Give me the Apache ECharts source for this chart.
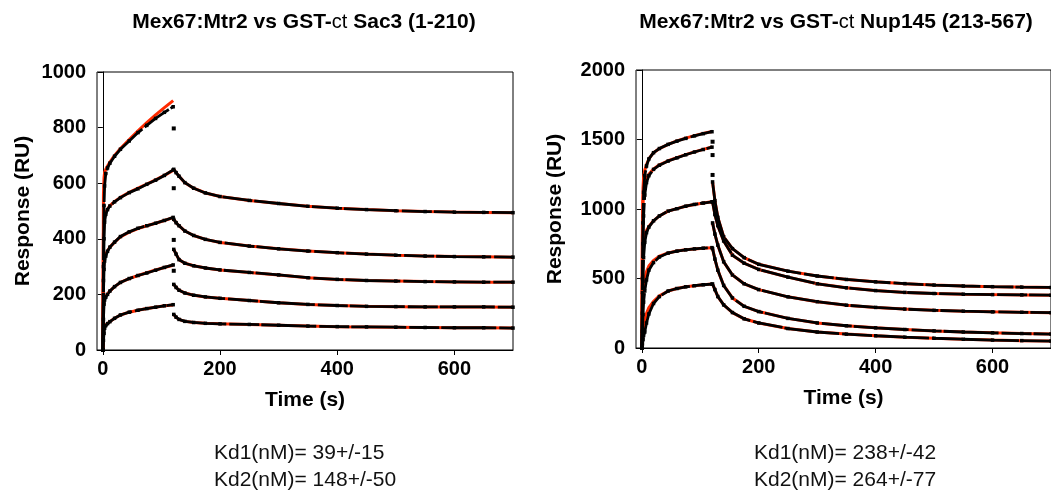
<!DOCTYPE html>
<html><head><meta charset="utf-8">
<script src="https://cdn.jsdelivr.net/npm/echarts@6/dist/echarts.min.js"></script>
<style>html,body{margin:0;padding:0;background:#fff}#c{width:1051px;height:490px}</style>
</head><body><div id="c"></div>
<script>
// ---- time samples (s) ----
const assocT = [0, 1, 2, 3, 5, 8, 12, 20, 30, 45, 60, 75, 90, 105, 120];
const dissT  = [121, 125, 130, 140, 155, 175, 200, 250, 300, 350, 400, 450, 500, 550, 600, 650, 700];
const transT = 121;
const xTicks = [0, 200, 400, 600];

// ---- Left panel: Sac3 (1-210) ----
const L_assoc1 = [0, 300, 520, 590, 635, 655, 672, 697, 722, 752, 782, 808, 833, 855, 875];
const L_assoc2 = [0, 250, 400, 460, 488, 505, 518, 533, 548, 566, 580, 596, 611, 628, 648];
const L_assoc3 = [0, 200, 290, 320, 338, 355, 370, 388, 408, 425, 438, 447, 456, 466, 477];
const L_assoc4 = [0, 110, 165, 180, 190, 200, 212, 228, 243, 257, 268, 277, 287, 297, 306];
const L_assoc5 = [0, 35, 60, 78, 88, 95, 102, 114, 126, 136, 143, 149, 154, 159, 163];
const L_fit1 = [0, 560, 620, 640, 650, 662, 676, 700, 725, 757, 788, 818, 846, 872, 897];
const L_fit2 = [0, 420, 470, 485, 495, 507, 519, 534, 549, 567, 582, 597, 612, 628, 646];
const L_fit3 = [0, 290, 325, 337, 345, 357, 370, 388, 407, 424, 437, 447, 456, 466, 476];
const L_fit4 = [0, 160, 180, 188, 194, 202, 212, 228, 243, 257, 268, 278, 288, 297, 305];
const L_fit5 = [0, 70, 80, 85, 90, 96, 102, 114, 126, 136, 143, 149, 154, 159, 162];
const L_diss1 = [650, 638, 625, 602, 582, 565, 552, 538, 527, 517, 510, 505, 501, 498, 496, 495, 494];
const L_diss2 = [470, 458, 447, 428, 412, 398, 387, 374, 364, 356, 350, 345, 341, 338, 336, 335, 334];
const L_diss3 = [362, 345, 325, 312, 303, 295, 288, 279, 270, 260, 254, 250, 248, 246, 245, 244, 244];
const L_diss4 = [236, 225, 215, 205, 197, 191, 186, 178, 170, 164, 160, 157, 156, 155, 155, 155, 154];
const L_diss5 = [128, 118, 110, 103, 99, 96, 94, 92, 89, 86, 84, 83, 82, 81, 80, 80, 79];
const L_trans = [797, 582, 396, 285];

// ---- Right panel: Nup145 (213-567) ----
const R_assoc1 = [0, 500, 900, 1120, 1240, 1310, 1360, 1405, 1435, 1465, 1488, 1508, 1526, 1542, 1556];
const R_assoc2 = [0, 400, 750, 950, 1100, 1190, 1240, 1285, 1315, 1345, 1368, 1390, 1410, 1428, 1445];
const R_assoc3 = [0, 250, 480, 650, 760, 830, 870, 915, 950, 985, 1002, 1020, 1033, 1043, 1052];
const R_assoc4 = [0, 120, 240, 330, 410, 490, 560, 615, 655, 683, 697, 706, 713, 718, 722];
const R_assoc5 = [0, 30, 60, 90, 115, 180, 245, 320, 370, 410, 428, 440, 448, 455, 460];
const R_fit1 = [0, 900, 1150, 1230, 1280, 1320, 1360, 1405, 1435, 1465, 1490, 1510, 1528, 1544, 1558];
const R_fit2 = [0, 800, 1050, 1130, 1180, 1220, 1250, 1288, 1318, 1347, 1370, 1391, 1411, 1429, 1446];
const R_fit3 = [0, 500, 680, 760, 810, 845, 875, 915, 950, 985, 1003, 1020, 1033, 1043, 1052];
const R_fit4 = [0, 250, 380, 440, 500, 550, 590, 630, 660, 684, 698, 707, 713, 718, 722];
const R_fit5 = [0, 60, 110, 150, 200, 250, 290, 335, 375, 410, 428, 440, 448, 455, 460];
const R_diss1 = [1195, 1060, 940, 800, 715, 650, 602, 553, 518, 493, 476, 463, 453, 446, 441, 438, 436];
const R_diss2 = [1050, 960, 880, 770, 668, 610, 565, 510, 462, 433, 413, 400, 392, 387, 384, 382, 380];
const R_diss3 = [900, 820, 740, 620, 525, 462, 420, 368, 333, 308, 292, 280, 271, 265, 260, 257, 254];
const R_diss4 = [715, 640, 560, 450, 360, 300, 262, 213, 180, 160, 145, 133, 123, 115, 109, 104, 100];
const R_diss5 = [460, 420, 370, 310, 255, 210, 180, 140, 115, 100, 88, 78, 70, 63, 57, 53, 50];
const R_trans = [1484, 1388, 1245];

const FONT = '"Liberation Sans", Arial, Helvetica, sans-serif';
const RED = '#ff2a00';
function pairs(ts, vs) { return vs.map((v, i) => [ts[i], v]); }

function panelSeries(g, assoc, fits, diss, trans) {
  const s = [];
  const red = (data) => ({
    type: 'line', xAxisIndex: g, yAxisIndex: g, data, showSymbol: false, z: 2,
    lineStyle: { color: RED, width: 3 }, silent: true, animation: false
  });
  const blk = (data) => ({
    type: 'line', xAxisIndex: g, yAxisIndex: g, data, symbol: 'rect', symbolSize: 3.5, z: 3,
    itemStyle: { color: '#000' }, lineStyle: { color: '#000', width: 2.8, type: [55, 3, 30, 2] },
    silent: true, animation: false
  });
  fits.forEach(f => s.push(red(pairs(assocT, f))));
  diss.forEach(d => s.push(red(pairs(dissT, d))));
  assoc.forEach(a => s.push(blk(pairs(assocT, a))));
  diss.forEach(d => s.push(blk(pairs(dissT, d))));
  s.push({
    type: 'scatter', xAxisIndex: g, yAxisIndex: g, symbol: 'rect', symbolSize: [4, 4],
    data: trans.map(v => [transT, v]), itemStyle: { color: '#000', opacity: 1 }, z: 4, silent: true, animation: false
  });
  return s;
}

const lblStyle = { fontFamily: FONT, fontSize: 20, fontWeight: 'bold', color: '#000' };
const nameStyle = { fontFamily: FONT, fontSize: 21, fontWeight: 'bold', color: '#000' };

function xAx(g) {
  return {
    gridIndex: g, type: 'value', min: -10, max: 700,
    axisLine: { show: true, onZero: false, lineStyle: { color: '#000', width: 1 } },
    axisTick: { show: true, customValues: xTicks, length: 5, lineStyle: { color: '#000' } },
    axisLabel: Object.assign({ customValues: xTicks, margin: 9, formatter: v => String(v) }, lblStyle),
    splitLine: { show: false },
    name: 'Time (s)', nameLocation: 'middle', nameGap: 40, nameTextStyle: nameStyle
  };
}
function yAx(g, max, interval, gap) {
  return {
    gridIndex: g, type: 'value', min: 0, max, interval,
    axisLine: { show: true, lineStyle: { color: '#000', width: 1 } },
    axisTick: { show: true, length: 5, lineStyle: { color: '#000' } },
    axisLabel: Object.assign({ margin: 11, formatter: v => String(v) }, lblStyle),
    splitLine: { show: false },
    name: 'Response (RU)', nameLocation: 'middle', nameGap: gap, nameTextStyle: nameStyle
  };
}

const titleRich = {
  b: { fontFamily: FONT, fontSize: 21, fontWeight: 'bold', fill: '#000' },
  n: { fontFamily: FONT, fontSize: 20, fontWeight: 'normal', fill: '#000' }
};
function txt(x, y, text, align, rich, size) {
  return {
    type: 'text', x, y, silent: true,
    style: {
      text, x: 0, y: 0, align, verticalAlign: 'middle', rich,
      font: (rich ? 'bold 21px ' : 'normal ' + size + 'px ') + FONT, fill: '#111'
    }
  };
}

const chart = echarts.init(document.getElementById('c'));
chart.setOption({
  animation: false,
  backgroundColor: '#fff',
  grid: [
    { left: 97, top: 72, width: 416, height: 278, show: true, borderColor: '#000', borderWidth: 1, backgroundColor: 'transparent' },
    { left: 636, top: 70, width: 420, height: 278, show: true, borderColor: '#000', borderWidth: 1, backgroundColor: 'transparent' }
  ],
  xAxis: [xAx(0), xAx(1)],
  yAxis: [yAx(0, 1000, 200, 63), yAx(1, 2000, 500, 70)],
  series: [].concat(
    panelSeries(0, [L_assoc1, L_assoc2, L_assoc3, L_assoc4, L_assoc5],
      [L_fit1, L_fit2, L_fit3, L_fit4, L_fit5],
      [L_diss1, L_diss2, L_diss3, L_diss4, L_diss5], L_trans),
    panelSeries(1, [R_assoc1, R_assoc2, R_assoc3, R_assoc4, R_assoc5],
      [R_fit1, R_fit2, R_fit3, R_fit4, R_fit5],
      [R_diss1, R_diss2, R_diss3, R_diss4, R_diss5], R_trans)
  ),
  graphic: [
    txt(304, 22, '{b|Mex67:Mtr2 vs GST-}{n|ct}{b| Sac3 (1-210)}', 'center', titleRich),
    txt(836, 22, '{b|Mex67:Mtr2 vs GST-}{n|ct}{b| Nup145 (213-567)}', 'center', titleRich),
    txt(214, 453, 'Kd1(nM)= 39+/-15', 'left', null, 21),
    txt(214, 480, 'Kd2(nM)= 148+/-50', 'left', null, 21),
    txt(754, 453, 'Kd1(nM)= 238+/-42', 'left', null, 21),
    txt(754, 480, 'Kd2(nM)= 264+/-77', 'left', null, 21)
  ]
});
</script>
</body></html>
